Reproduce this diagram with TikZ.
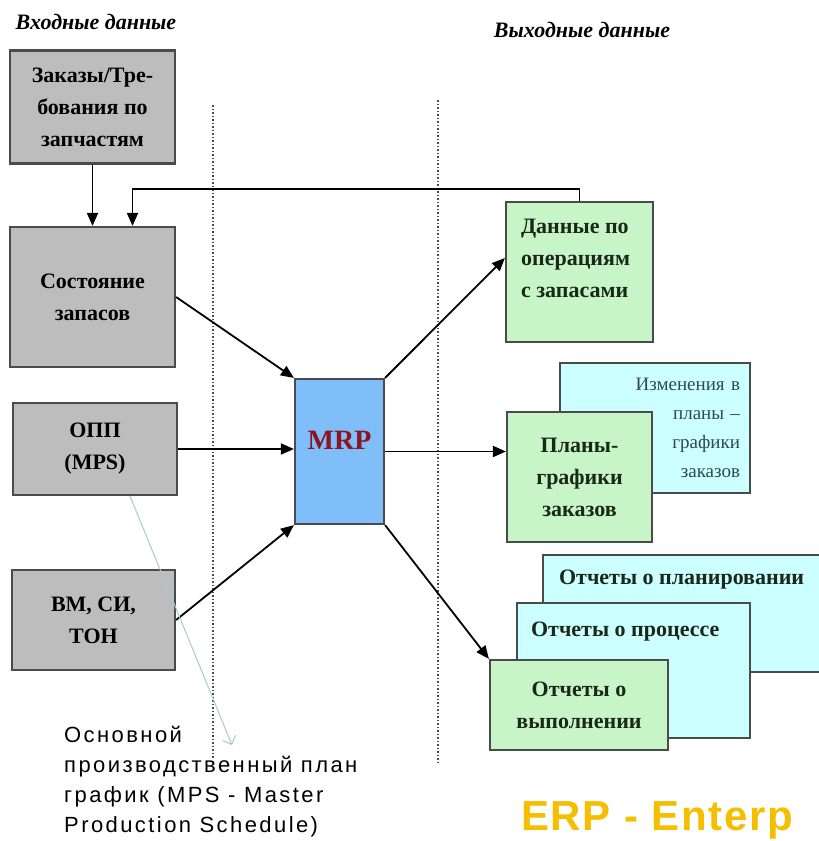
\documentclass[tikz,border=0pt]{standalone}
\usepackage{fontspec}
\setmainfont{Liberation Serif}
\newfontfamily\arialfont{Liberation Sans}
\newfontfamily\arialwide[LetterSpace=11]{Liberation Sans}
\newfontfamily\arialerp[LetterSpace=4]{Liberation Sans}
\usetikzlibrary{arrows.meta,positioning}
\definecolor{boxgray}{RGB}{189,189,189}
\definecolor{edgegray}{RGB}{75,75,75}
\definecolor{outgreen}{RGB}{200,245,200}
\definecolor{repcyan}{RGB}{204,255,255}
\definecolor{mrpblue}{RGB}{128,190,250}
\definecolor{mrpred}{RGB}{140,20,35}
\definecolor{darktext}{RGB}{25,40,25}
\definecolor{chgtext}{RGB}{45,75,75}
\definecolor{notecyan}{RGB}{165,205,205}
\definecolor{erpyellow}{RGB}{245,190,0}
\newcommand\boxfont{\fontsize{22}{32}\selectfont\bfseries}
\begin{document}
\begin{tikzpicture}[x=1pt,y=-1pt,
  inbox/.style={draw=edgegray, line width=2.2pt, fill=boxgray, align=center, font=\boxfont},
  outbox/.style={draw=edgegray, line width=2.2pt, fill=outgreen, align=center, text=darktext, font=\boxfont},
  repbox/.style={draw=edgegray, line width=2.2pt, fill=repcyan, align=center, text=darktext, font=\boxfont},
  tl/.style={anchor=north west, align=left, inner sep=0pt, text=darktext, font=\boxfont},
  flow/.style={-{Triangle[length=13pt,width=11pt]}, line width=1.8pt},
  sepline/.style={dotted, line width=1.5pt, draw=edgegray}]
\useasboundingbox (0,0) rectangle (819,841);
% headings
\node[font=\fontsize{22}{26}\selectfont\bfseries\itshape] (inhead) at (96,22) {Входные данные};
\node[font=\fontsize{22}{26}\selectfont\bfseries\itshape] (outhead) at (582,30) {Выходные данные};
% separators
\draw[sepline] (213,105) -- (213,758);
\draw[sepline] (438,100) -- (438,762);
% inputs
\node[inbox, minimum width=165pt, minimum height=113pt] (orders) at (92.5,107) {Заказы/Тре-\\бования по\\запчастям};
\node[inbox, minimum width=165pt, minimum height=140pt] (stock) at (92.5,297) {Состояние\\запасов};
\node[inbox, minimum width=164pt, minimum height=92pt] (mps) at (95,449) {ОПП\\(MPS)};
\node[inbox, minimum width=163pt, minimum height=100pt] (bom) at (93.5,620) {ВМ, СИ,\\ТОН};
% MRP
\node[draw=edgegray, line width=2.2pt, fill=mrpblue, minimum width=89pt, minimum height=145pt, text depth=22pt,
  text=mrpred, font=\fontsize{28}{30}\selectfont\bfseries] (mrp) at (339.5,451.5) {MRP};
% outputs
\node[outbox, minimum width=147pt, minimum height=140pt,
  label={[tl, xshift=16pt, yshift=-18pt]north west:{Данные по\\операциям\\с запасами}}] (ops) at (579.5,272) {};
\node[repbox, minimum width=190pt, minimum height=130pt, text width=170pt, align=right,
  text=chgtext, font=\fontsize{19}{29}\selectfont] (chg) at (655,428) {Изменения в\\планы –\\графики\\заказов};
\node[outbox, minimum width=145pt, minimum height=130pt] (plans) at (579.5,477) {Планы-\\графики\\заказов};
\node[repbox, minimum width=287pt, minimum height=117pt,
  label={[tl, xshift=17pt, yshift=-16pt]north west:{Отчеты о планировании}}] (planrep) at (686.5,613.5) {};
\node[repbox, minimum width=233pt, minimum height=135pt,
  label={[tl, xshift=15pt, yshift=-20pt]north west:{Отчеты о процессе}}] (procrep) at (633.5,670.5) {};
\node[outbox, minimum width=178pt, minimum height=90pt] (execrep) at (579,705) {Отчеты о\\выполнении};
% notes
\node[anchor=north west, align=left, inner sep=0pt, font=\arialwide\fontsize{22}{30}\selectfont] (mpsnote) at (64,726)
  {Основной\\производственный план\\график (MPS - Master\\Production Schedule)};
\node[anchor=north west, inner sep=0pt, text=erpyellow, font=\arialerp\bfseries\fontsize{42}{46}\selectfont] (erp) at (521,801) {ERP - Enterp};
\coordinate (notetip) at (232,745);
% connectors
\draw[flow] (orders.south) -- (stock.north);
\draw[flow] (ops.north) -- ++(0,-12) -| ([xshift=40pt]stock.north);
\draw[flow] (stock.east) -- (mrp.north west);
\draw[flow] (mps.east) -- (mps.east -| mrp.west);
\draw[flow] (bom.east) -- (mrp.south west);
\draw[flow] (mrp.north east) -- ([yshift=14pt]ops.west);
\draw[flow] (mrp.east) -- (mrp.east -| plans.west);
\draw[flow] (mrp.south east) -- (execrep.north west);
\draw[-{Straight Barb[length=7pt]}, draw=notecyan, line width=1pt] ([xshift=35pt]mps.south) -- (notetip);
\end{tikzpicture}
\end{document}
